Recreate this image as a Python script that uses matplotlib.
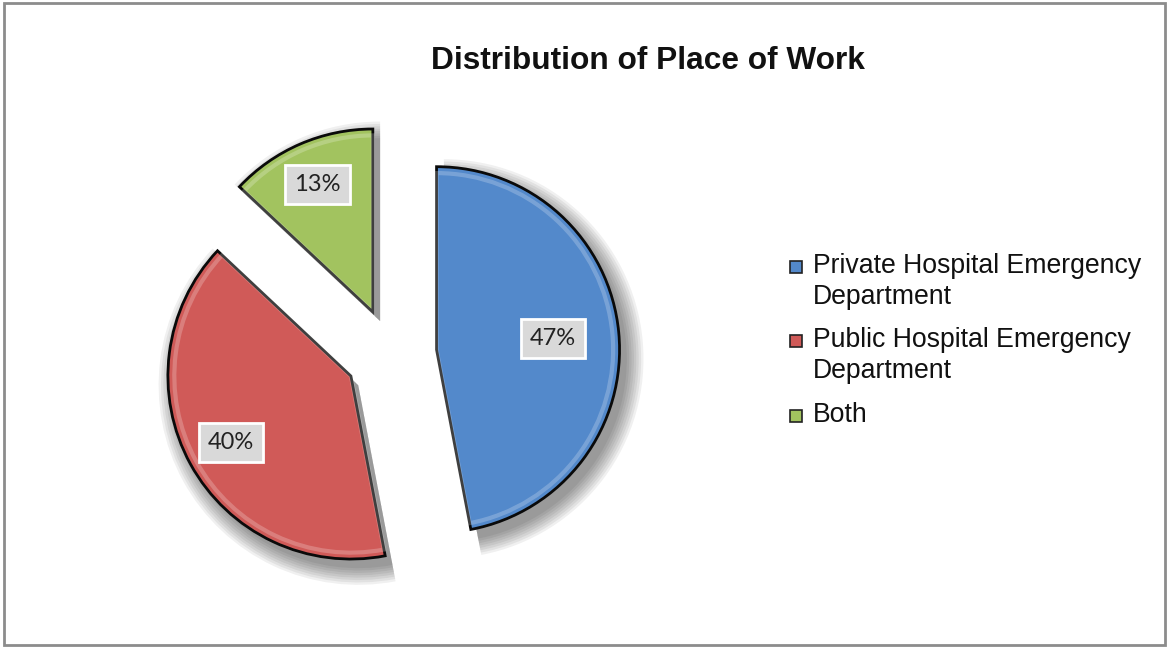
import matplotlib.pyplot as plt
from matplotlib.patches import Rectangle
import numpy as np

# place of work shares
categories = ['Private Hospital Emergency\nDepartment',
              'Public Hospital Emergency\nDepartment',
              'Both']
shares = [47, 40, 13]
colors = ['#5389CB', '#D05A58', '#A2C35F']

W, H = 1168, 647
fig = plt.figure(figsize=(W / 100, H / 100), dpi=100)
fig.patch.set_facecolor('white')

# pie axes: 1 data unit = 183 px, pie centre at (391, 354) px
R = 183.0
cx, cy = 391, 354
half_w, half_h = 330, 290
ax = fig.add_axes([(cx - half_w) / W, (H - cy - half_h) / H,
                   2 * half_w / W, 2 * half_h / H])

explode = [0.25] * len(shares)

# soft drop shadow, built from stacked translucent pies
for i in range(8):
    ax.pie(shares, explode=explode, startangle=90, counterclock=False,
           radius=1.0 + 0.013 * i, center=(0.04, -0.05),
           colors=['#000000'] * 3,
           wedgeprops=dict(alpha=0.06, linewidth=0), frame=True)

wedges, _ = ax.pie(shares, explode=explode, startangle=90, counterclock=False,
                   radius=1.0, colors=colors,
                   wedgeprops=dict(edgecolor='#0A0A0A', linewidth=2.0),
                   frame=True)

# bevel: light inner rim
ax.pie(shares, explode=explode, startangle=90, counterclock=False,
       radius=0.965, colors=['none'] * 3,
       wedgeprops=dict(edgecolor='white', linewidth=3, alpha=0.22, fill=False),
       frame=True)
ax.set_xlim(-half_w / R, half_w / R)
ax.set_ylim(-half_h / R, half_h / R)
ax.set_aspect('equal')
ax.axis('off')

# percentage labels
label_r = [0.64, 0.75, 0.76]
for w, v, r in zip(wedges, shares, label_r):
    th = np.deg2rad((w.theta1 + w.theta2) / 2)
    x0, y0 = w.center
    ax.text(x0 + r * np.cos(th), y0 + r * np.sin(th), f'{v}%',
            ha='center', va='center', fontsize=17, family='Lato',
            color='#222222',
            bbox=dict(boxstyle='square,pad=0.38', facecolor='#D9D9D9',
                      edgecolor='white', linewidth=2))

# title
fig.text(648 / W, 1 - 61 / H, 'Distribution of Place of Work',
         ha='center', va='center', fontsize=22.8, fontweight='bold',
         family='Liberation Sans', color='#111111')

# legend
leg_x = 790
item_y = [267, 341, 416]
for c, lab, y in zip(colors, categories, item_y):
    fig.patches.append(Rectangle((leg_x / W, 1 - (y + 6) / H), 12 / W, 12 / H,
                                 transform=fig.transFigure, facecolor=c,
                                 edgecolor='#222222', linewidth=1.2))
    fig.text((leg_x + 23) / W, 1 - (y - 14) / H, lab, ha='left', va='top',
             fontsize=19.2, family='Liberation Sans', color='#111111',
             linespacing=1.25)

# outer frame
fig.patches.append(Rectangle((4 / W, 2 / H), (W - 7) / W, (H - 5) / H,
                             transform=fig.transFigure, fill=False,
                             edgecolor='#8C8C8C', linewidth=2))

fig.savefig('out.png', dpi=100)
